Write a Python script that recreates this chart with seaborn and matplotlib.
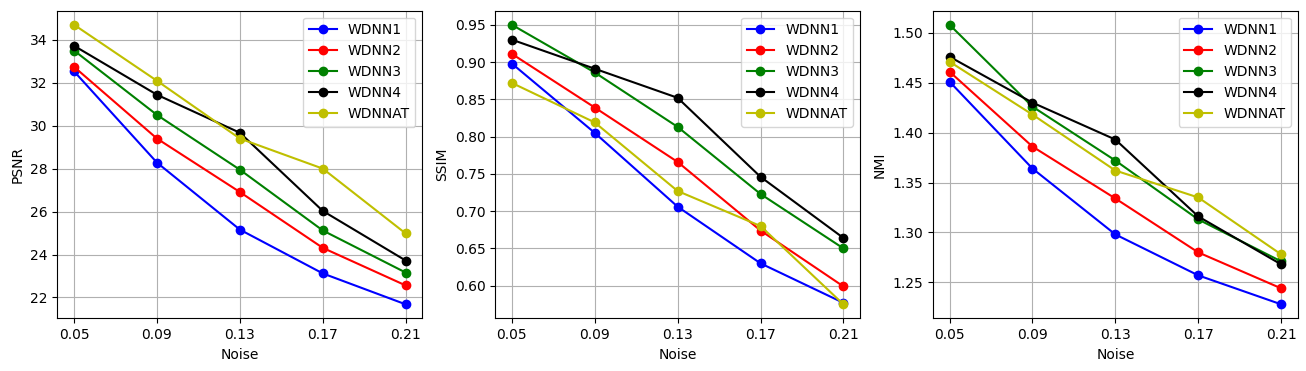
import matplotlib
matplotlib.use("Agg")
import matplotlib.pyplot as plt
import seaborn as sns

noise = [0.05, 0.09, 0.13, 0.17, 0.21]
models = ["WDNN1", "WDNN2", "WDNN3", "WDNN4", "WDNNAT"]
colors = ["b", "r", "g", "k", "y"]

psnr = {
    "WDNN1": [32.53, 28.28, 25.16, 23.12, 21.68],
    "WDNN2": [32.74, 29.40, 26.91, 24.31, 22.56],
    "WDNN3": [33.50, 30.50, 27.95, 25.12, 23.16],
    "WDNN4": [33.72, 31.44, 29.67, 26.03, 23.72],
    "WDNNAT": [34.70, 32.09, 29.40, 28.00, 24.98],
}
ssim = {
    "WDNN1": [0.898, 0.805, 0.706, 0.630, 0.577],
    "WDNN2": [0.911, 0.839, 0.766, 0.674, 0.599],
    "WDNN3": [0.950, 0.886, 0.813, 0.723, 0.650],
    "WDNN4": [0.930, 0.891, 0.852, 0.746, 0.664],
    "WDNNAT": [0.872, 0.819, 0.727, 0.680, 0.575],
}
nmi = {
    "WDNN1": [1.451, 1.364, 1.298, 1.257, 1.228],
    "WDNN2": [1.461, 1.386, 1.334, 1.280, 1.244],
    "WDNN3": [1.508, 1.426, 1.372, 1.313, 1.271],
    "WDNN4": [1.476, 1.430, 1.393, 1.316, 1.268],
    "WDNNAT": [1.471, 1.418, 1.362, 1.335, 1.278],
}

metrics = [("PSNR", psnr), ("SSIM", ssim), ("NMI", nmi)]

fig, axes = plt.subplots(1, 3, figsize=(13.06, 3.71), dpi=100)
fig.subplots_adjust(left=0.044, right=0.9937, top=0.971, bottom=0.142, wspace=0.2)

for ax, (ylabel, data) in zip(axes, metrics):
    for name, c in zip(models, colors):
        sns.lineplot(x=noise, y=data[name], ax=ax, color=c, marker="o",
                     markersize=6, markeredgecolor=c, markeredgewidth=1,
                     label=name)
    ax.set_xticks(noise)
    ax.set_xticklabels([f"{v:.2f}" for v in noise])
    ax.set_xlabel("Noise")
    ax.set_ylabel(ylabel)
    ax.grid(True)
    ax.legend(loc="upper right")

fig.savefig("out.png", dpi=100)
